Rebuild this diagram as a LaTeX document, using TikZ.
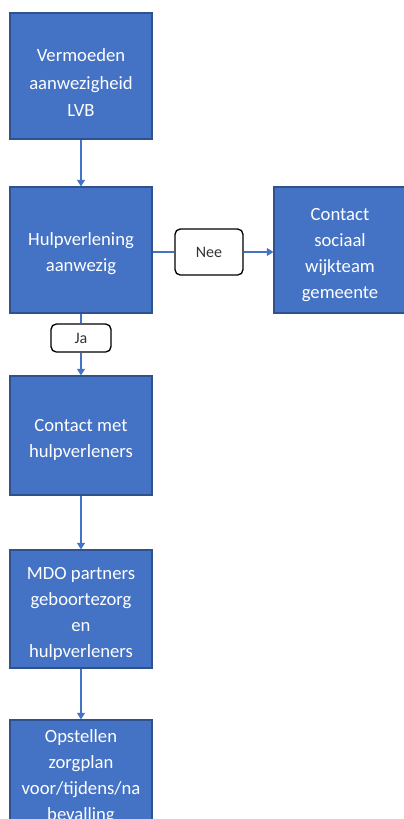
\documentclass[tikz,border=0pt]{standalone}
\usepackage{fontspec}
\setmainfont{Carlito}
\usetikzlibrary{arrows.meta}
\definecolor{boxblue}{HTML}{4472C4}
\definecolor{boxedge}{HTML}{2F528F}
\tikzset{
  box/.style={draw=boxedge, line width=0.8pt, fill=boxblue, inner sep=0pt},
  boxtext/.style={text=white, align=center, font=\fontsize{14}{19.5}\selectfont, inner sep=0pt},
  lbl/.style={draw=black, line width=1pt, fill=white, rounded corners=4pt, align=center,
    font=\fontsize{12}{14}\selectfont, inner sep=0pt, text=black!80},
  conn/.style={draw=boxblue, line width=0.8pt},
  arr/.style={conn, -{Triangle[width=6pt,length=5pt]}}
}
\begin{document}
\begin{tikzpicture}[x=0.75pt, y=-0.75pt]
\useasboundingbox (0,0) rectangle (404,819);
\clip (0,0) rectangle (404,819);
\node[box, minimum width=106.5pt, minimum height=94.5pt] (b1) at (81,76) {};
\node[boxtext, font=\fontsize{14}{20.5}\selectfont] (t1) at ([yshift=-5pt]b1.center) {Vermoeden\\aanwezigheid\\LVB};
\node[box, minimum width=106.5pt, minimum height=94.5pt] (b2) at (81,250) {};
\node[boxtext] (t2) at ([yshift=-3pt]b2.center) {Hulpverlening\\aanwezig};
\node[box, minimum width=99pt, minimum height=94.5pt] (r) at (340,250) {};
\node[boxtext] (tr) at ([yshift=-3.5pt]r.center) {Contact\\sociaal\\wijkteam\\gemeente};
\node[lbl, minimum width=51pt, minimum height=34.5pt] (nee) at (209,252) {Nee};
\node[lbl, minimum width=45pt, minimum height=21pt] (ja) at (81,338) {Ja};
\node[box, minimum width=106.5pt, minimum height=89.25pt] (b3) at (81,435.5) {};
\node[boxtext] (t3) at ([yshift=-3pt]b3.center) {Contact met\\hulpverleners};
\node[box, minimum width=106.5pt, minimum height=88.5pt] (b4) at (81,609) {};
\node[boxtext] (t4) at ([yshift=-4pt]b4.center) {MDO partners\\geboortezorg\\en\\hulpverleners};
\node[box, minimum width=106.5pt, minimum height=82.5pt] (b5) at (81,775) {};
\node[boxtext] (t5) at ([yshift=-1.5pt]b5.center) {Opstellen\\zorgplan\\voor/tijdens/na\\bevalling};
\draw[arr] (b1) -- (b2);
\draw[conn] (b2.south) -- (ja.north);
\draw[arr] (ja.south) -- (b3.north);
\draw[conn] (b2.east |- nee.west) -- (nee.west);
\draw[arr] (nee.east) -- (r.west |- nee.east);
\draw[arr] (b3) -- (b4);
\draw[arr] (b4) -- (b5);
\end{tikzpicture}
\end{document}
